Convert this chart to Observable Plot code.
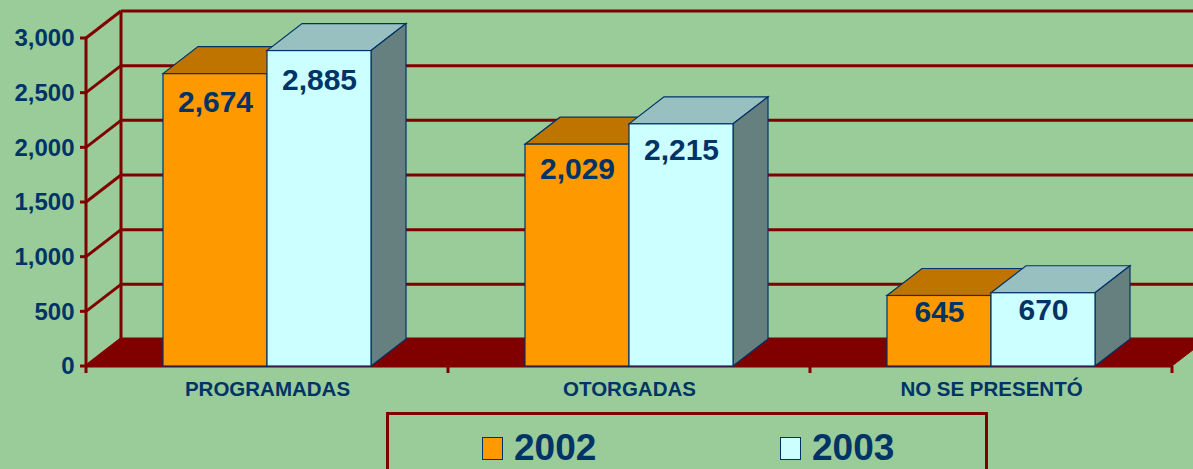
<!DOCTYPE html>
<html><head><meta charset="utf-8">
<script src="https://cdn.jsdelivr.net/npm/d3@7"></script>
<script src="https://cdn.jsdelivr.net/npm/@observablehq/plot@0.6"></script>
<style>
html,body{margin:0;padding:0;background:#99CC99;}
body{width:1193px;height:469px;overflow:hidden;font-family:"Liberation Sans",Arial,sans-serif;}
#chart svg{display:block;}
#legend{position:relative;margin-left:386px;margin-top:8px;width:596px;height:70px;border:3px solid #800000;}
.item{position:absolute;top:15px;display:flex;align-items:center;}
.sw{width:19px;height:21px;border:1.5px solid #003366;}
.lab{font-weight:bold;font-size:37px;color:#003366;margin-left:11px;line-height:36px;}
</style>
</head><body>
<div id="chart"></div>
<div id="legend"></div>
<script>
// ---- data ----
const categories = ["PROGRAMADAS", "OTORGADAS", "NO SE PRESENTÓ"];
const seriesNames = ["2002", "2003"];
const values2002 = [2674, 2029, 645];
const values2003 = [2885, 2215, 670];
const yTicks = [0, 500, 1000, 1500, 2000, 2500, 3000];

// ---- styling ----
const frontColors = ["#FF9900", "#CCFFFF"];
const topColors = ["#C07400", "#99C0C0"];
const sideColors = ["#A06000", "#668080"];
const wallRed = "#800000";
const navy = "#003366";
const DX = 35, DY = -27;          // 3-D depth offset in pixels
const barOffset = [0.2127, 0.5];  // within each category band
const barWidth = 0.2873;

const rows = [];
categories.forEach((c, i) => {
  [values2002, values2003].forEach((vals, s) => {
    rows.push({cat: c, i, s, series: seriesNames[s], value: vals[i]});
  });
});

function scenery(index, scales, values, dimensions) {
  const {x, y} = scales;
  const g = d3.create("svg:g");
  const x0 = x(0), xN = x(categories.length), yb = y(0);
  const line = (x1, y1, x2, y2, w = 3) => g.append("line")
    .attr("x1", x1).attr("y1", y1).attr("x2", x2).attr("y2", y2)
    .attr("stroke", wallRed).attr("stroke-width", w);
  // back wall gridlines
  for (const t of yTicks) line(x0 + DX, y(t) + DY, dimensions.width + 5, y(t) + DY);
  // back wall left edge
  line(x0 + DX, yb + DY, x0 + DX, y(3000) + DY);
  // left wall
  line(x0, yb, x0, y(3000));
  for (const t of yTicks) line(x0, y(t), x0 + DX, y(t) + DY);
  // y ticks
  for (const t of yTicks) line(x0 - 6, y(t), x0, y(t));
  // floor
  g.append("polygon")
    .attr("points", [[x0, yb], [xN, yb], [xN + DX, yb + DY], [x0 + DX, yb + DY]].join(" "))
    .attr("fill", wallRed).attr("stroke", wallRed).attr("stroke-width", 1);
  line(x0, yb, xN, yb);
  for (let k = 0; k <= categories.length; k++) line(x(k), yb, x(k), yb + 7);
  // bar tops and sides
  for (const d of rows) {
    const xl = x(d.i + barOffset[d.s]), xr = x(d.i + barOffset[d.s] + barWidth), yt = y(d.value);
    g.append("polygon")
      .attr("points", [[xl, yt], [xr, yt], [xr + DX, yt + DY], [xl + DX, yt + DY]].join(" "))
      .attr("fill", topColors[d.s]).attr("stroke", navy).attr("stroke-width", 1.2);
    g.append("polygon")
      .attr("points", [[xr, yt], [xr, yb], [xr + DX, yb + DY], [xr + DX, yt + DY]].join(" "))
      .attr("fill", sideColors[d.s]).attr("stroke", navy).attr("stroke-width", 1.2);
  }
  return g.node();
}

const fmt = d3.format(",");
// value labels sit a little lower inside taller bars (as in the source's 3-D projection)
const labelDy = d => 13 + 0.0058 * d.value;
const chart = Plot.plot({
  width: 1193,
  height: 404,
  marginLeft: 86, marginRight: 21, marginTop: 38, marginBottom: 38,
  x: {type: "linear", domain: [0, categories.length], range: [86, 1172], axis: null},
  y: {type: "linear", domain: [0, 3000], range: [366, 38], axis: null},
  color: {domain: seriesNames, range: frontColors},
  style: {background: "transparent", fontFamily: "'Liberation Sans', Arial, sans-serif", overflow: "visible"},
  marks: [
    scenery,
    Plot.rect(rows, {
      x1: d => d.i + barOffset[d.s],
      x2: d => d.i + barOffset[d.s] + barWidth,
      y1: 0, y2: "value",
      fill: "series", stroke: navy, strokeWidth: 1.2
    }),
    ...rows.map(d => Plot.text([d], {
      x: r => r.i + barOffset[r.s] + barWidth / 2,
      y: "value",
      text: r => fmt(r.value),
      dy: labelDy(d), fill: navy, fontSize: 30, fontWeight: "bold"
    })),
    Plot.text(yTicks, {
      y: d => d, frameAnchor: "left", text: d => fmt(d),
      textAnchor: "end", dx: -12, fill: navy, fontSize: 24, fontWeight: "bold"
    }),
    Plot.text(categories, {
      x: (d, i) => i + 0.5, y: () => 0, text: d => d,
      dy: 23, fill: navy, fontSize: 20.5, fontWeight: "bold"
    })
  ]
});
document.getElementById("chart").appendChild(chart);

// legend
const legend = document.getElementById("legend");
const legendLeft = [93, 391];
seriesNames.forEach((name, s) => {
  const item = document.createElement("div");
  item.className = "item";
  item.style.left = legendLeft[s] + "px";
  const sw = document.createElement("div");
  sw.className = "sw";
  sw.style.background = frontColors[s];
  const lab = document.createElement("span");
  lab.className = "lab";
  lab.textContent = name;
  item.appendChild(sw); item.appendChild(lab);
  legend.appendChild(item);
});
</script>
</body></html>
